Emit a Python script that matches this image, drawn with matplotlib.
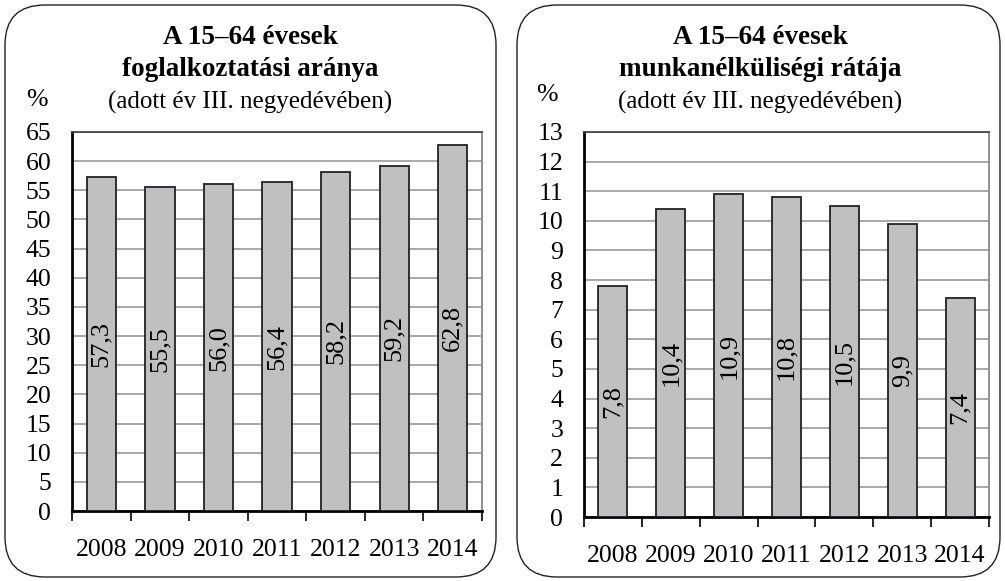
import numpy as np
import matplotlib.pyplot as plt
from matplotlib.patches import FancyBboxPatch

plt.rcParams['font.family'] = ['Liberation Serif', 'DejaVu Serif']

years = ['2008', '2009', '2010', '2011', '2012', '2013', '2014']
employment = [57.3, 55.5, 56.0, 56.4, 58.2, 59.2, 62.8]
unemployment = [7.8, 10.4, 10.9, 10.8, 10.5, 9.9, 7.4]

title_left = ['A 15–64 évesek', 'foglalkoztatási aránya']
title_right = ['A 15–64 évesek', 'munkanélküliségi rátája']
subtitle = '(adott év III. negyedévében)'

BAR = '#c0c0c3'
FS = 18.5


def fmt(v):
    return ('%.1f' % v).replace('.', ',')


def draw_panel(fig, rect, vals, ymax, step, box, titles, cx):
    # rounded frame around the panel (inches)
    bx, by, bw, bh = box
    fig.patches.append(FancyBboxPatch((bx, by), bw, bh,
                                      boxstyle='round,pad=0,rounding_size=0.4',
                                      transform=fig.dpi_scale_trans,
                                      fc='none', ec='#222222', lw=1.0))
    fig.text(cx, 1 - 38 / 581, titles[0], ha='center', va='center',
             fontsize=19.5, fontweight='bold')
    fig.text(cx, 1 - 70 / 581, titles[1], ha='center', va='center',
             fontsize=19.5, fontweight='bold')
    fig.text(cx, 1 - 102 / 581, subtitle, ha='center', va='center', fontsize=18)

    ax = fig.add_axes(rect)
    x = np.arange(len(vals))
    ax.bar(x, vals, width=0.5, color=BAR, edgecolor='#222222', lw=1.3, zorder=3)
    for xi, v in zip(x, vals):
        ax.text(xi, v / 2, fmt(v), rotation=90, ha='center', va='center',
                fontsize=19, zorder=4)
    ax.set_xlim(-0.5, len(vals) - 0.5)
    ax.set_ylim(0, ymax)
    ax.set_yticks(np.arange(0, ymax + step / 2, step))
    ax.set_yticklabels([str(int(t)) for t in np.arange(0, ymax + step / 2, step)])
    ax.yaxis.grid(True, color='#999999', lw=1.2, zorder=0)
    ax.tick_params(axis='y', length=0, pad=15, labelsize=FS)
    ax.set_xticks(np.arange(-0.5, len(vals), 1.0))
    ax.set_xticklabels([])
    ax.set_xticks(x, minor=True)
    ax.set_xticklabels(years, minor=True)
    ax.tick_params(axis='x', which='major', direction='out', length=7, width=1.2)
    ax.tick_params(axis='x', which='minor', length=0, pad=20, labelsize=FS)
    ax.spines['left'].set_linewidth(2)
    ax.spines['bottom'].set_linewidth(2)
    ax.spines['top'].set_color('#444444')
    ax.spines['top'].set_linewidth(1.3)
    ax.spines['right'].set_color('#888888')
    ax.spines['right'].set_linewidth(1.3)
    return ax


fig = plt.figure(figsize=(10.05, 5.81), dpi=100)

draw_panel(fig, [72 / 1005, 70 / 581, 410 / 1005, 379 / 581], employment, 65, 5,
           (0.05, 0.04, 4.91, 5.72), title_left, 250 / 1005)
fig.text(37 / 1005, 1 - 100 / 581, '%', ha='center', va='center', fontsize=FS)

draw_panel(fig, [584 / 1005, 64 / 581, 405 / 1005, 385 / 581], unemployment, 13, 1,
           (5.17, 0.04, 4.83, 5.72), title_right, 760 / 1005)
fig.text(547 / 1005, 1 - 95 / 581, '%', ha='center', va='center', fontsize=FS)

fig.savefig('out.png', dpi=100)
